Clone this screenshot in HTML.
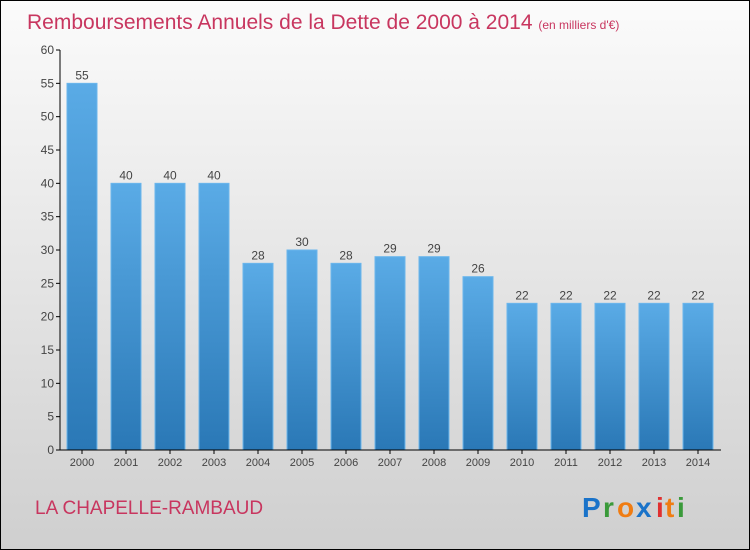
<!DOCTYPE html>
<html><head><meta charset="utf-8"><style>
body{margin:0;width:750px;height:550px;overflow:hidden}
svg{display:block;font-family:"Liberation Sans",sans-serif}
</style></head><body>
<svg id="c" width="750" height="550">
<defs>
<linearGradient id="bg" x1="0" y1="0" x2="0" y2="1"><stop offset="0" stop-color="#fbfbfb"/><stop offset="1" stop-color="#cfcfcf"/></linearGradient>
<linearGradient id="bar" x1="0" y1="0" x2="0" y2="1"><stop offset="0" stop-color="#5aabe6"/><stop offset="1" stop-color="#2a78b6"/></linearGradient>
</defs>
<rect x="0.5" y="0.5" width="749" height="549" fill="url(#bg)" stroke="#000"/>
<text x="27" y="29" font-size="21" fill="#c8365f">Remboursements Annuels de la Dette de 2000 à 2014 <tspan font-size="12">(en milliers d'€)</tspan></text>
<text x="35" y="514" font-size="19" fill="#c8365f">LA CHAPELLE-RAMBAUD</text>
<g font-size="28" font-weight="bold">
<text x="582" y="517" fill="#1a73c9">P</text><text x="603" y="517" fill="#3a9a3a">r</text><text x="617" y="517" fill="#f07c12">o</text><text x="636" y="517" fill="#1a73c9">x</text><text x="656" y="517" fill="#e03030">i</text><text x="665" y="517" fill="#f07c12">t</text><text x="677" y="517" fill="#3a9a3a">i</text>
</g>
<g id="plot"></g>
</svg>
<script>
const years=["2000","2001","2002","2003","2004","2005","2006","2007","2008","2009","2010","2011","2012","2013","2014"];
const values=[55,40,40,40,28,30,28,29,29,26,22,22,22,22,22];
const ticks=[0,5,10,15,20,25,30,35,40,45,50,55,60];
const NS="http://www.w3.org/2000/svg";
const g=document.getElementById('plot');
const y=v=>450-v*400/60;
const x=i=>82+i*44;
function el(t,a,txt){const e=document.createElementNS(NS,t);for(const k in a)e.setAttribute(k,a[k]);if(txt!==undefined)e.textContent=txt;g.appendChild(e);return e;}
ticks.forEach(t=>{
 const l=el('line',{x1:56,x2:60,y1:y(t),y2:y(t),stroke:'#000'});
 
 
 const tx=el('text',{x:54,y:y(t)+4,'font-size':12,fill:'#444','text-anchor':'end'},t);
 
 
});
values.forEach((v,i)=>{
 const r=el('rect',{x:x(i)-15,y:y(v),width:30,height:450-y(v),fill:'url(#bar)',stroke:'#6bb6ec','stroke-width':1});
 
 
 const t=el('text',{x:x(i),y:y(v)-4,'font-size':12,fill:'#444','text-anchor':'middle'},v);
 
 
 const xl=el('text',{x:x(i),y:466,'font-size':11,fill:'#444','text-anchor':'middle'},years[i]);
 
 
 const xt=el('line',{x1:x(i),x2:x(i),y1:450,y2:454,stroke:'#000'});
 
 
});
const ya=el('line',{x1:60,x2:60,y1:50,y2:450,stroke:'#000'});


const xa=el('line',{x1:60,x2:721,y1:450,y2:450,stroke:'#000'});


</script>
</body></html>
